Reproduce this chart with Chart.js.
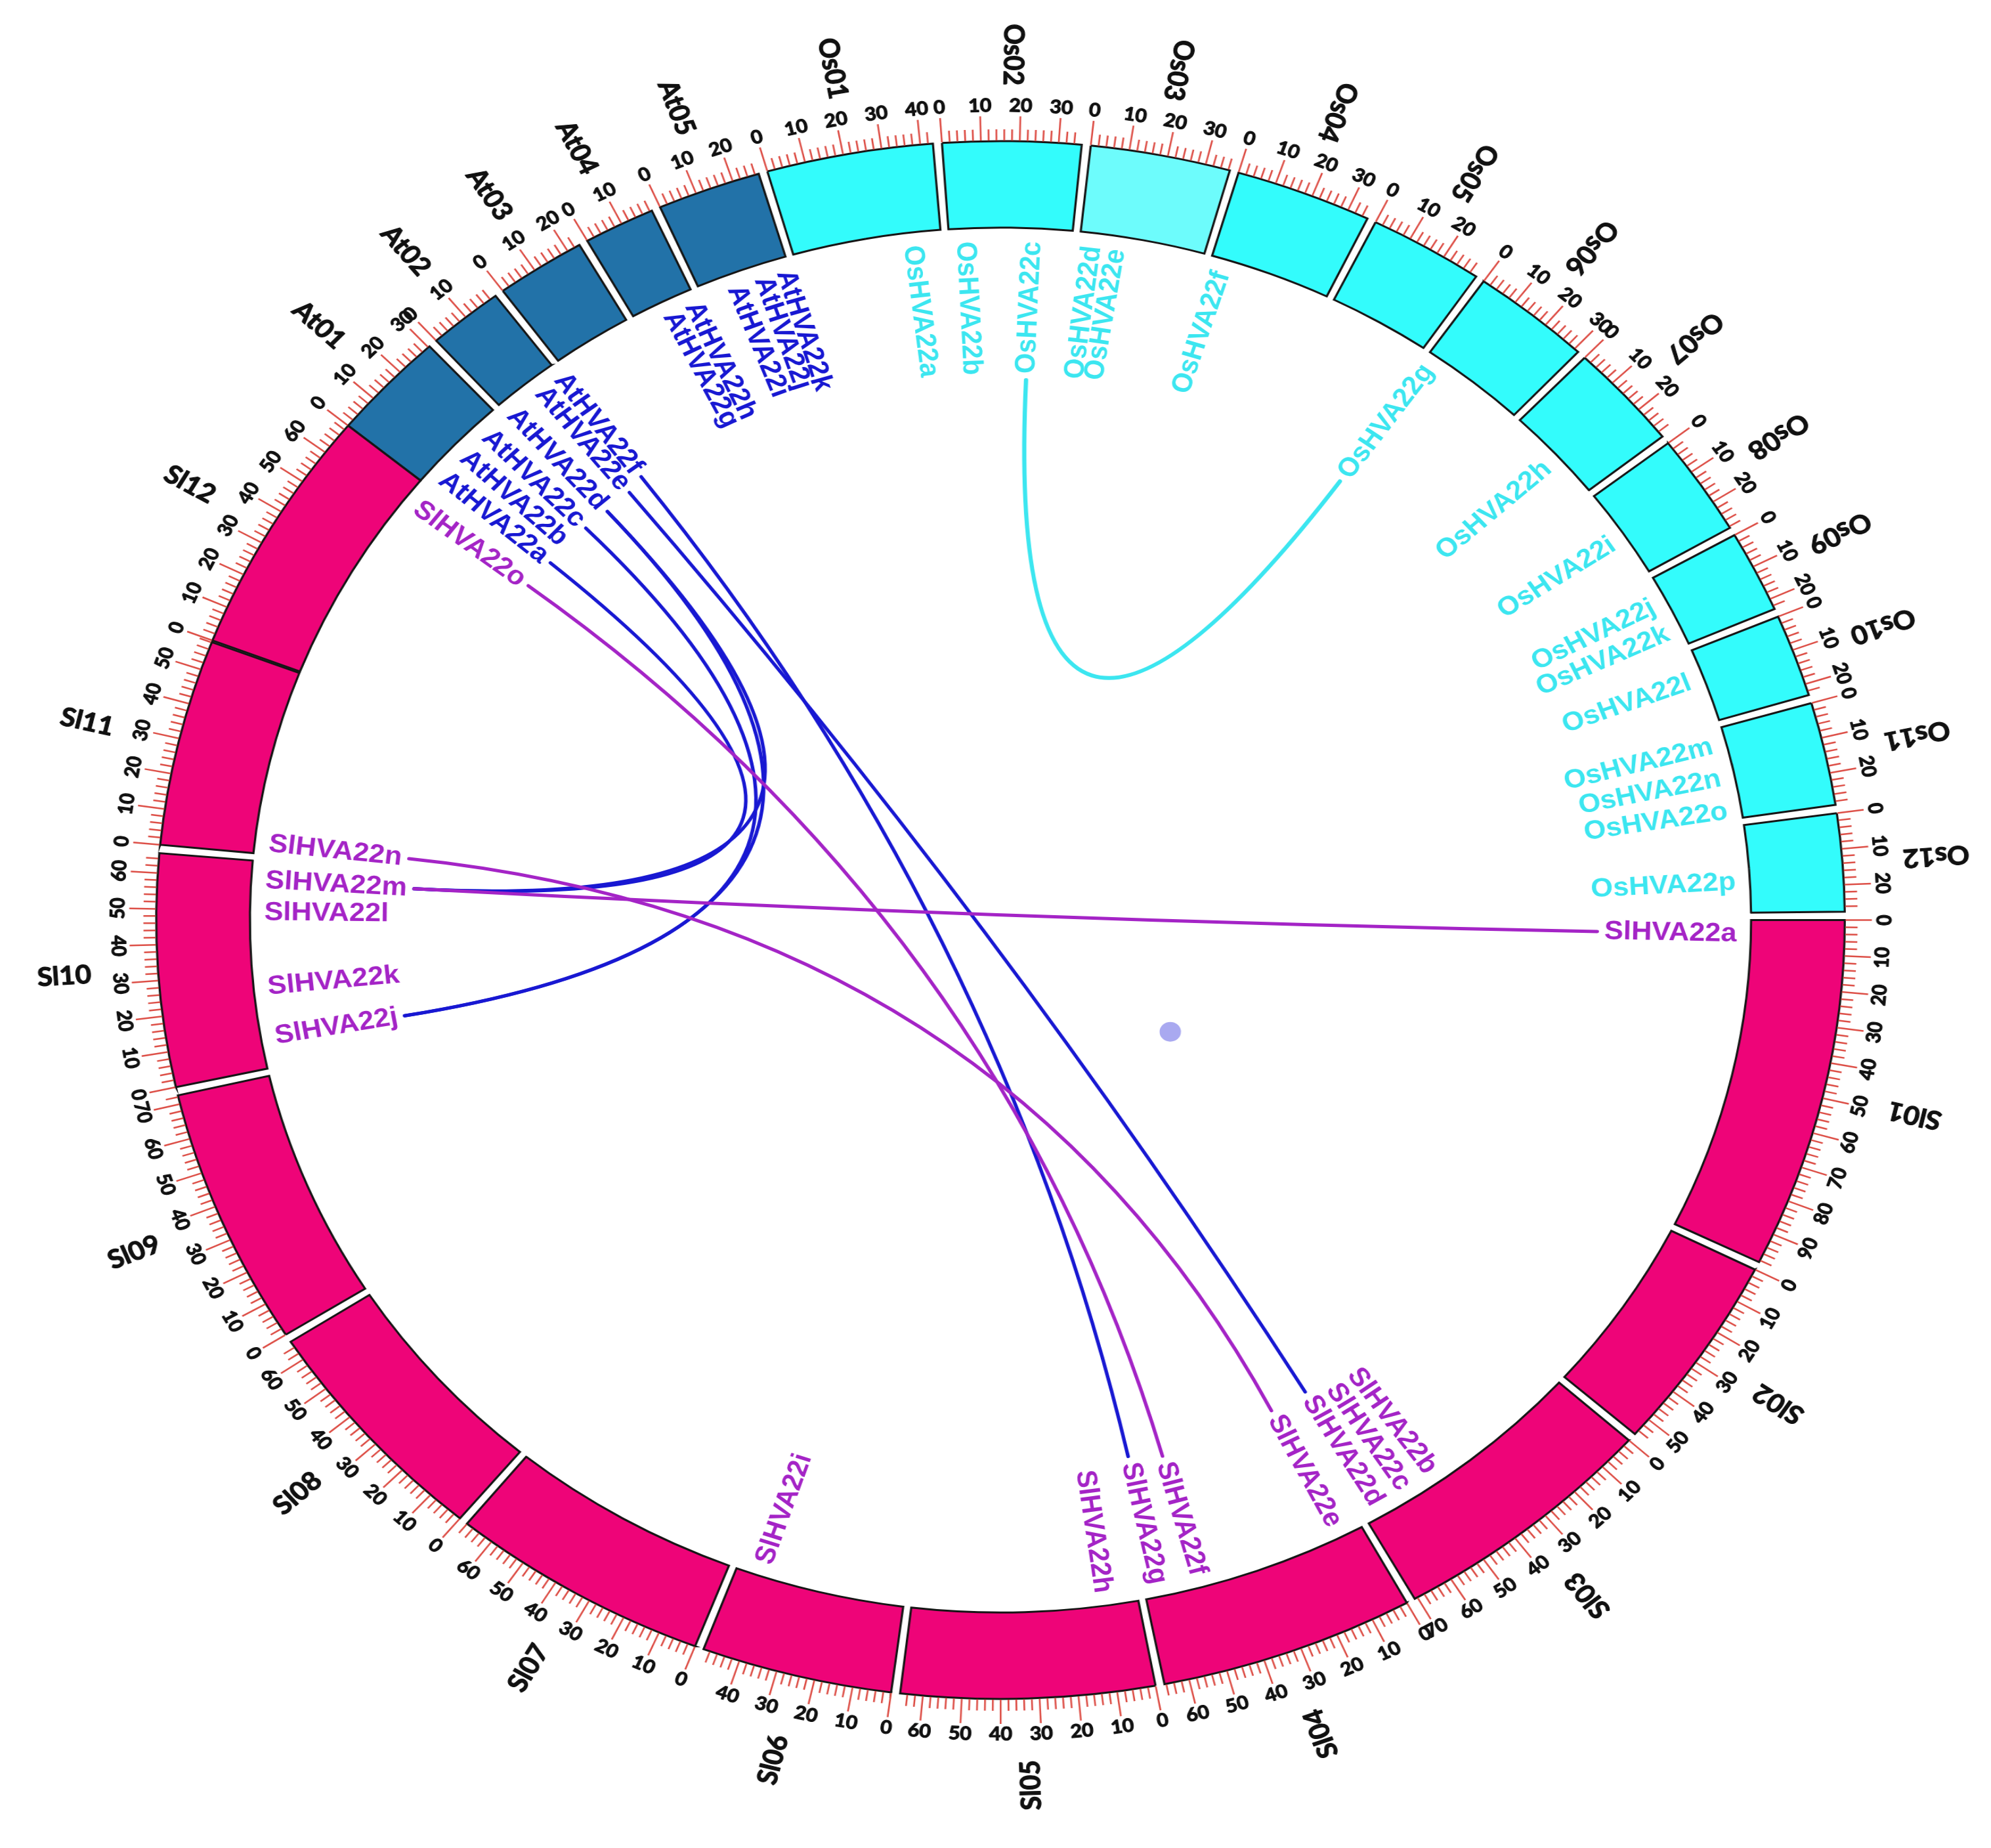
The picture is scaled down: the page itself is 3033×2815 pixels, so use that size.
<!DOCTYPE html>
<html>
<head>
<meta charset="utf-8">
<script src="https://cdn.jsdelivr.net/npm/chart.js@4.4.1/dist/chart.umd.min.js"></script>
<style>
  html, body { margin: 0; padding: 0; background: #fff; overflow: hidden; }
  /* the reference is stretched sideways, so the round chart is stretched the same way */
  #wrap { width: 2798px; height: 2815px; transform: scaleX(1.084); transform-origin: 0 0; }
</style>
</head>
<body>
<div id="wrap"><canvas id="circos" width="2798" height="2815"></canvas></div>
<script>
// chromosomes, sizes in Mb
const chromNames = ['At01', 'At02', 'At03', 'At04', 'At05',
    'Os01', 'Os02', 'Os03', 'Os04', 'Os05', 'Os06', 'Os07', 'Os08', 'Os09', 'Os10', 'Os11', 'Os12',
    'Sl01', 'Sl02', 'Sl03', 'Sl04', 'Sl05', 'Sl06', 'Sl07', 'Sl08', 'Sl09', 'Sl10', 'Sl11', 'Sl12'];
const chromSizes = [30.43, 19.70, 23.46, 18.59, 26.98,
    43.27, 35.94, 36.41, 35.50, 29.96, 31.25, 29.70, 28.44, 23.01, 23.21, 29.02, 27.53,
    98.54, 55.34, 70.79, 66.47, 65.88, 49.75, 68.05, 65.87, 72.48, 65.53, 58.10, 69.48];
const gapMb = 2.326; // blank space after each chromosome
const gapOverride = { Sl11: 0.5, Sl12: 0 };

// HVA22 genes: chromosome and position (Mb)
const geneNames = ['AtHVA22a', 'AtHVA22b', 'AtHVA22c', 'AtHVA22d', 'AtHVA22e', 'AtHVA22f', 'AtHVA22g', 'AtHVA22h', 'AtHVA22i', 'AtHVA22j', 'AtHVA22k',
    'OsHVA22a', 'OsHVA22b', 'OsHVA22c', 'OsHVA22d', 'OsHVA22e', 'OsHVA22f', 'OsHVA22g', 'OsHVA22h', 'OsHVA22i', 'OsHVA22j', 'OsHVA22k', 'OsHVA22l', 'OsHVA22m', 'OsHVA22n', 'OsHVA22o', 'OsHVA22p',
    'SlHVA22a', 'SlHVA22b', 'SlHVA22c', 'SlHVA22d', 'SlHVA22e', 'SlHVA22f', 'SlHVA22g', 'SlHVA22h', 'SlHVA22i', 'SlHVA22j', 'SlHVA22k', 'SlHVA22l', 'SlHVA22m', 'SlHVA22n', 'SlHVA22o'];
const geneChroms = ['At01', 'At01', 'At01', 'At02', 'At02', 'At02', 'At04', 'At04', 'At05', 'At05', 'At05',
    'Os01', 'Os02', 'Os02', 'Os03', 'Os03', 'Os04', 'Os06', 'Os07', 'Os08', 'Os09', 'Os09', 'Os10', 'Os11', 'Os11', 'Os11', 'Os12',
    'Sl01', 'Sl03', 'Sl03', 'Sl03', 'Sl04', 'Sl04', 'Sl04', 'Sl05', 'Sl06', 'Sl10', 'Sl10', 'Sl10', 'Sl10', 'Sl11', 'Sl12'];
const genePos = [4.9, 14.4, 23.8, 1.3, 12.3, 19.5, 9.9, 17.1, 9.9, 18.4, 25.3,
    34.5, 4.5, 24.5, 4.0, 11.2, 4.3, 2.3, 16.0, 15.3, 8.0, 17.5, 9.2, 5.2, 15.8, 26.4, 17.8,
    4.5, 46.5, 56.0, 65.5, 6.7, 49.9, 62.0, 9.8, 42.6, 9.5, 25.4, 49.2, 59.4, 3.3, 62.3];

// duplicated pairs
const linkFrom = ['OsHVA22c', 'AtHVA22a', 'AtHVA22c', 'AtHVA22d', 'AtHVA22d', 'AtHVA22e', 'AtHVA22f', 'SlHVA22m', 'SlHVA22n', 'SlHVA22o'];
const linkTo = ['OsHVA22g', 'SlHVA22m', 'SlHVA22j', 'SlHVA22m', 'SlHVA22j', 'SlHVA22d', 'SlHVA22g', 'SlHVA22a', 'SlHVA22e', 'SlHVA22f'];

const majorTick = 10, minorTick = 2;

// styles
const blockColor = { At: '#2272A8', Os: '#33FCFC', Sl: '#EE0478' };
const blockColorOverride = { Os03: '#6DFCFC' };
const geneColor = { At: '#1818D2', Os: '#3CE6F0', Sl: '#A424C6' };
const tickColor = '#DD5048';

// ring table for the doughnut: chromosome, gap, chromosome, gap ...
const ringValues = [], ringColors = [], ringBorders = [], ringIndex = [];
chromNames.forEach((name, i) => {
    ringIndex.push(ringValues.length);
    ringValues.push(chromSizes[i]);
    ringColors.push(blockColorOverride[name] || blockColor[name.slice(0, 2)]);
    ringBorders.push(3);
    ringValues.push(name in gapOverride ? gapOverride[name] : gapMb);
    ringColors.push('rgba(0,0,0,0)');
    ringBorders.push(0);
});

const TAU = Math.PI * 2;
const norm = a => ((a % TAU) + TAU) % TAU;

const circosPlugin = {
    id: 'circos',
    afterDatasetsDraw(chart) {
        const ctx = chart.ctx;
        const arcs = chart.getDatasetMeta(0).data;
        const cx = arcs[0].x, cy = arcs[0].y;
        const rOut = arcs[0].outerRadius, rIn = arcs[0].innerRadius;
        const angleOf = (ci, mb) => {
            const a = arcs[ringIndex[ci]];
            return a.startAngle + (a.endAngle - a.startAngle) * mb / chromSizes[ci];
        };
        const pt = (ang, r) => [cx + r * Math.cos(ang), cy + r * Math.sin(ang)];

        // gene label anchors
        ctx.save();
        ctx.font = 'bold 40px "Liberation Sans", Arial, sans-serif';
        const rLab = rIn - 20;
        const anchor = {};
        const genes = geneNames.map((name, i) => {
            const ci = chromNames.indexOf(geneChroms[i]);
            const a = angleOf(ci, genePos[i]);
            const w = ctx.measureText(name).width;
            anchor[name] = pt(a, rLab - w - 10);
            return { name, a };
        });

        // links
        ctx.lineCap = 'round';
        linkFrom.forEach((f, i) => {
            const t = linkTo[i];
            const sp = [f.slice(0, 2), t.slice(0, 2)];
            let col = geneColor.Sl;
            if (sp.includes('At')) col = geneColor.At;
            else if (sp[0] === 'Os' && sp[1] === 'Os') col = geneColor.Os;
            const p0 = anchor[f], p2 = anchor[t];
            ctx.beginPath();
            ctx.moveTo(p0[0], p0[1]);
            ctx.quadraticCurveTo(cx, cy, p2[0], p2[1]);
            ctx.strokeStyle = col;
            ctx.lineWidth = col === geneColor.Os ? 6 : 5;
            ctx.stroke();
        });

        // gene labels
        ctx.textBaseline = 'middle';
        genes.forEach(g => {
            const [x, y] = pt(g.a, rLab);
            const n = norm(g.a);
            const flip = n > Math.PI / 2 && n < Math.PI * 1.5;
            ctx.save();
            ctx.translate(x, y);
            if (flip) { ctx.rotate(g.a + Math.PI); ctx.textAlign = 'left'; }
            else { ctx.rotate(g.a); ctx.textAlign = 'right'; }
            ctx.fillStyle = geneColor[g.name.slice(0, 2)];
            ctx.fillText(g.name, 0, 0);
            ctx.restore();
        });

        // ticks
        ctx.strokeStyle = tickColor;
        ctx.lineWidth = 2.5;
        ctx.lineCap = 'butt';
        chromNames.forEach((name, ci) => {
            for (let m = 0; m <= chromSizes[ci] + 0.001; m += minorTick) {
                const a = angleOf(ci, m);
                const len = (m % majorTick === 0) ? 38 : 18;
                const [x1, y1] = pt(a, rOut + 1);
                const [x2, y2] = pt(a, rOut + len);
                ctx.beginPath();
                ctx.moveTo(x1, y1);
                ctx.lineTo(x2, y2);
                ctx.stroke();
            }
        });

        // tick labels
        ctx.fillStyle = '#111';
        ctx.strokeStyle = '#111';
        ctx.lineWidth = 1.2;
        ctx.lineJoin = 'round';
        ctx.font = 'bold 28px Lato, "Liberation Sans", sans-serif';
        ctx.textAlign = 'center';
        ctx.textBaseline = 'middle';
        chromNames.forEach((name, ci) => {
            for (let m = 0; m <= chromSizes[ci]; m += majorTick) {
                const a = angleOf(ci, m);
                const [x, y] = pt(a, rOut + 54);
                const n = norm(a);
                ctx.save();
                ctx.translate(x, y);
                ctx.rotate(a + Math.PI / 2 + ((n > 0.001 && n < Math.PI) ? Math.PI : 0));
                ctx.fillText(String(m), 0, 0);
                ctx.strokeText(String(m), 0, 0);
                ctx.restore();
            }
        });

        // chromosome names
        ctx.font = 'bold 39px Lato, "Liberation Sans", sans-serif';
        ctx.lineWidth = 1.2;
        chromNames.forEach((name, ci) => {
            const a = angleOf(ci, chromSizes[ci] / 2);
            const [x, y] = pt(a, rOut + 132);
            ctx.save();
            ctx.translate(x, y);
            ctx.rotate(a + Math.PI);
            ctx.fillText(name, 0, 0);
            ctx.strokeText(name, 0, 0);
            ctx.restore();
        });

        // small stray dot inside the circle
        const dotAng = (125.5 - 90) * Math.PI / 180;
        const [dx, dy] = pt(dotAng, rOut * 0.247);
        ctx.beginPath();
        ctx.arc(dx, dy, 15, 0, TAU);
        ctx.fillStyle = 'rgba(140,140,235,0.75)';
        ctx.fill();
        ctx.restore();
    }
};

new Chart(document.getElementById('circos'), {
    type: 'doughnut',
    data: {
        labels: ringValues.map((v, i) => i % 2 === 0 ? chromNames[i / 2] : ''),
        datasets: [{
            data: ringValues,
            backgroundColor: ringColors,
            borderColor: '#151515',
            borderWidth: ringBorders,
            borderJoinStyle: 'miter'
        }]
    },
    options: {
        responsive: false,
        devicePixelRatio: 1,
        animation: false,
        events: [],
        rotation: -50.6,
        radius: 1186.5,
        cutout: '88.9%',
        layout: { padding: { left: 14, right: 0, top: 0, bottom: 12 } },
        plugins: { legend: { display: false }, tooltip: { enabled: false } }
    },
    plugins: [circosPlugin]
});
</script>
</body>
</html>
